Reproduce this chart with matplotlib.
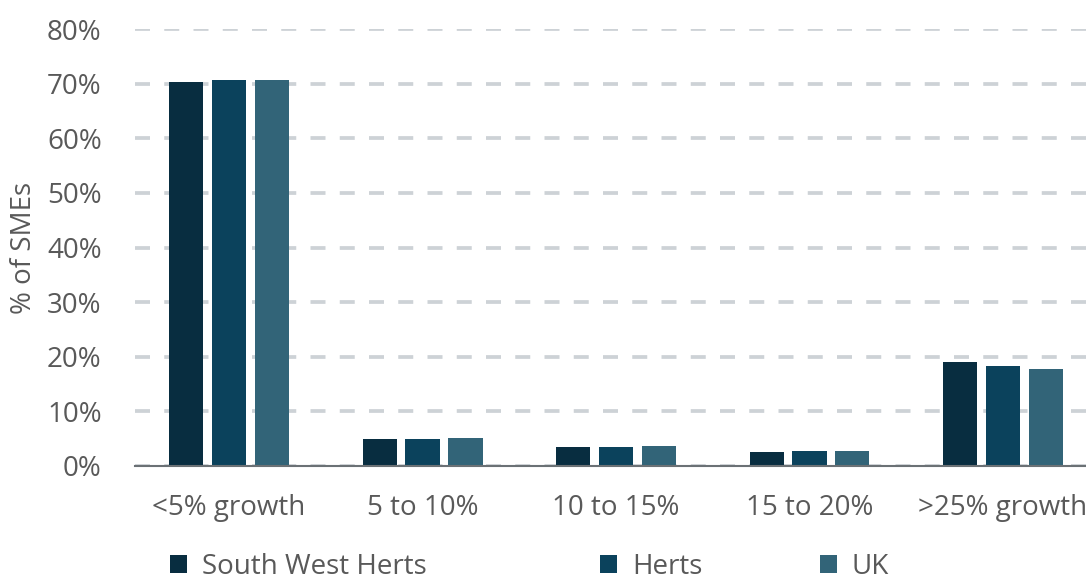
import matplotlib.pyplot as plt
import numpy as np

categories = ["<5% growth", "5 to 10%", "10 to 15%", "15 to 20%", ">25% growth"]
series_names = ["South West Herts", "Herts", "UK"]
south_west_herts = [70.3, 4.9, 3.5, 2.5, 19.0]
herts = [70.7, 4.9, 3.5, 2.7, 18.3]
uk = [70.7, 5.1, 3.7, 2.7, 17.8]
colors = ["#082d40", "#0b425c", "#326478"]
yticks = [0, 10, 20, 30, 40, 50, 60, 70, 80]

plt.rcParams['font.family'] = ['Open Sans', 'DejaVu Sans']
grey = "#595959"
fs = 20

fig = plt.figure(figsize=(10.86, 5.84), dpi=100)
ax = fig.add_axes([135/1086, 1 - 466/584, 1 - 135/1086, (466 - 29)/584])

x = np.arange(len(categories))
width = 0.176
step = 0.222
handles = []
for i, (vals, name) in enumerate(zip([south_west_herts, herts, uk], series_names)):
    b = ax.bar(x + (i - 1) * step, vals, width, color=colors[i], label=name, zorder=3)
    handles.append(b)

ax.set_ylim(0, 80)
ax.set_xlim(-0.486, 4.429)
ax.set_yticks(yticks)
ax.set_yticklabels([f"{v}%" for v in yticks])
ax.set_xticks(x)
ax.set_xticklabels(categories)
ax.yaxis.grid(True, color="#cdd2d6", linestyle=(0, (4, 3.8)), linewidth=2.7, zorder=0)
ax.set_axisbelow(True)
for s in ["top", "right", "left"]:
    ax.spines[s].set_visible(False)
ax.spines["bottom"].set_color("#6b7175")
ax.spines["bottom"].set_linewidth(1.5)
ax.spines["bottom"].set_zorder(4)
ax.tick_params(axis='y', length=0, pad=24, labelsize=fs, labelcolor=grey)
ax.tick_params(axis='x', length=0, pad=20, labelsize=fs, labelcolor=grey)
ax.set_ylabel("% of SMEs", fontsize=fs, color=grey)
ax.yaxis.set_label_coords(-0.102, 0.5)

# legend entries placed like the original (uneven spacing)
legend_x = [170/1086, 600/1086, 820/1086]
for h, name, lx in zip(handles, series_names, legend_x):
    fig.legend([h], [name], loc='center left', bbox_to_anchor=(lx, 1 - 567/584),
               frameon=False, fontsize=fs, labelcolor=grey, handlelength=0.6,
               handleheight=0.6, handletextpad=0.55, borderaxespad=0, borderpad=0)

fig.savefig("out.png", dpi=100)
